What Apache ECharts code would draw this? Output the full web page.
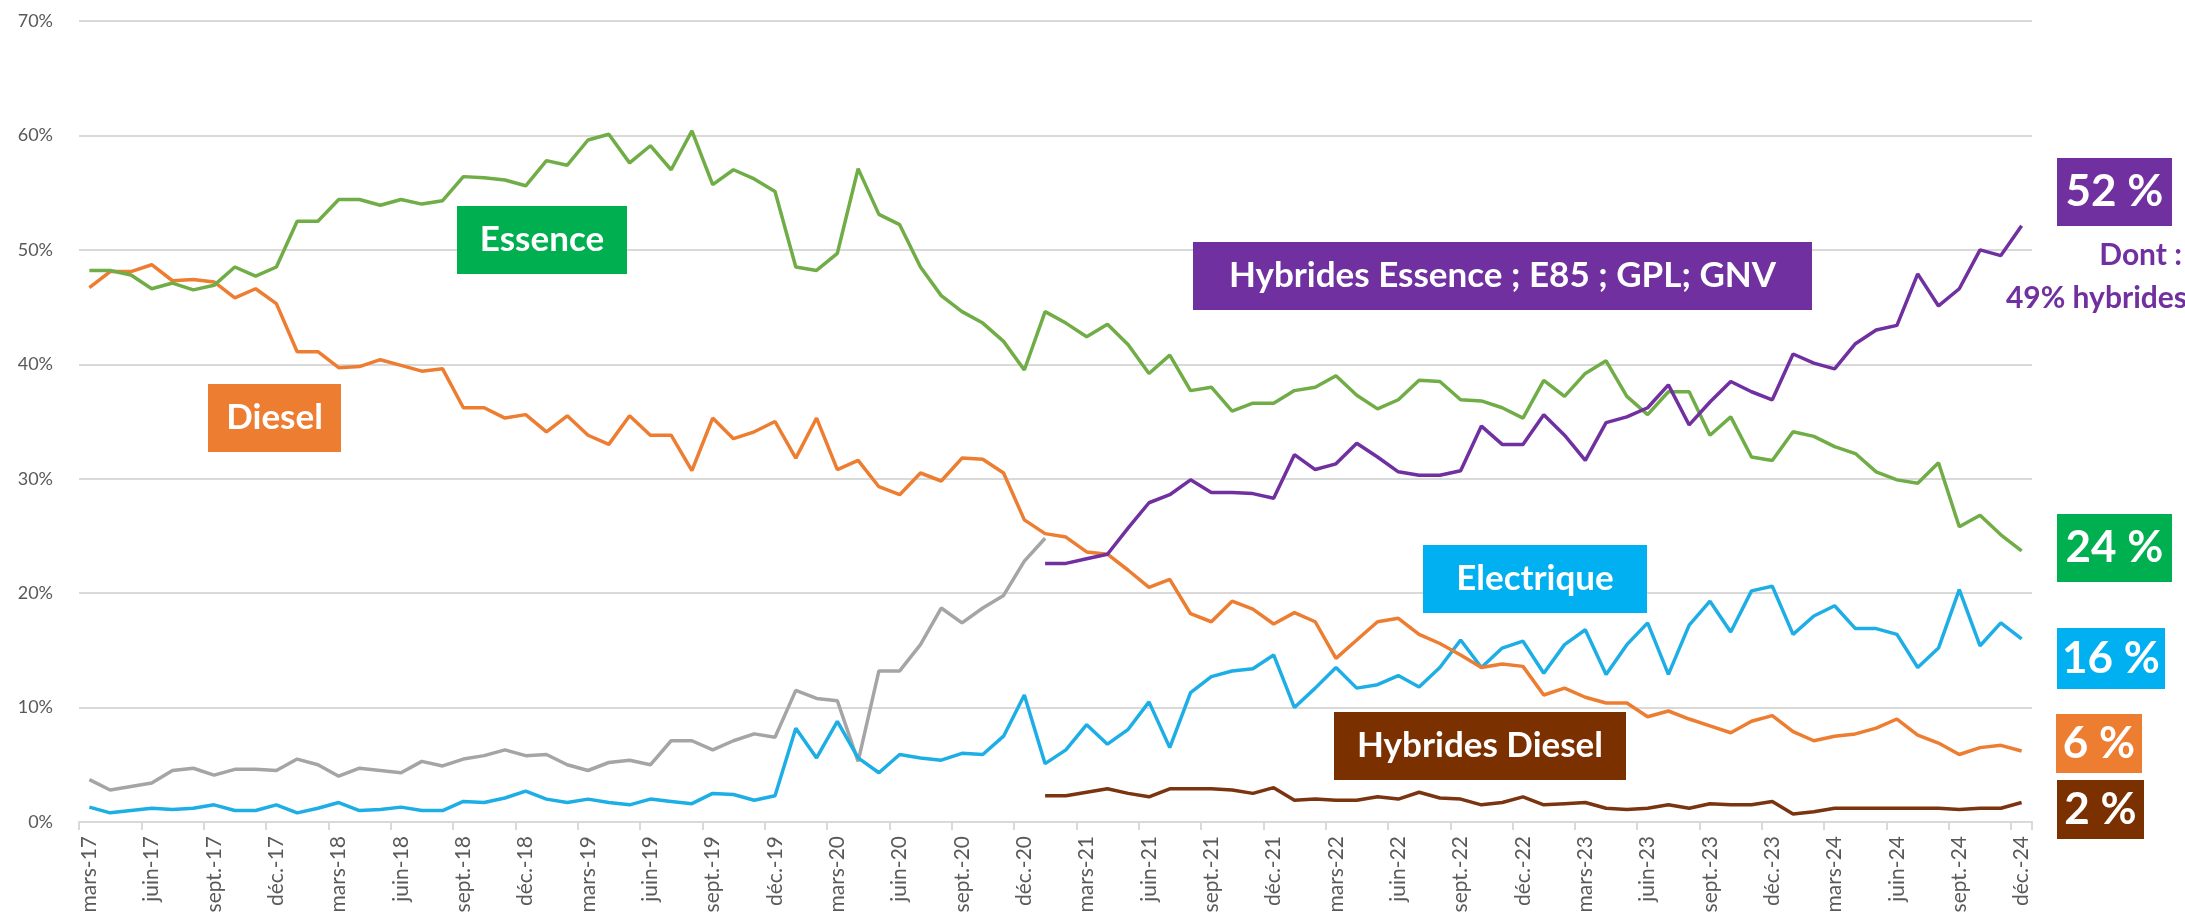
<!DOCTYPE html>
<html>
<head>
<meta charset="utf-8">
<script src="https://cdn.jsdelivr.net/npm/echarts@6/dist/echarts.min.js"></script>
<style>
  html, body { margin: 0; padding: 0; background: #fff; }
  #chart { width: 2185px; height: 920px; }
</style>
</head>
<body>
<div id="chart"></div>
<script>
// mois (libellés Excel) et années
const moisNoms = ["janv.", "févr.", "mars", "avr.", "mai", "juin", "juil.", "août", "sept.", "oct.", "nov.", "déc."];
const annees = ["17", "18", "19", "20", "21", "22", "23", "24"];

// catégories : mars-17 -> déc.-24
const categories = [];
annees.forEach((a, k) => {
  moisNoms.forEach((m, j) => {
    if (k === 0 && j < 2) return;
    categories.push(m + "-" + a);
  });
});

// parts de marché (%)
const essence = [
  48.2, 48.2, 47.8, 46.6, 47.1, 46.5, 46.9, 48.5, 47.7, 48.5,
  52.5, 52.5, 54.4, 54.4, 53.9, 54.4, 54.0, 54.3, 56.4, 56.3,
  56.1, 55.6, 57.8, 57.4, 59.6, 60.1, 57.6, 59.1, 57.0, 60.4,
  55.7, 57.0, 56.2, 55.1, 48.5, 48.2, 49.7, 57.1, 53.1, 52.2,
  48.5, 46.0, 44.6, 43.6, 42.0, 39.5, 44.6, 43.6, 42.4, 43.5,
  41.7, 39.2, 40.8, 37.7, 38.0, 35.9, 36.6, 36.6, 37.7, 38.0,
  39.0, 37.3, 36.1, 36.9, 38.6, 38.5, 36.9, 36.8, 36.2, 35.3,
  38.6, 37.2, 39.2, 40.3, 37.2, 35.6, 37.6, 37.6, 33.8, 35.4,
  31.9, 31.6, 34.1, 33.7, 32.8, 32.2, 30.6, 29.9, 29.6, 31.4,
  25.8, 26.8, 25.1, 23.7
];
const diesel = [
  46.7, 48.1, 48.1, 48.7, 47.3, 47.4, 47.2, 45.8, 46.6, 45.3,
  41.1, 41.1, 39.7, 39.8, 40.4, 39.9, 39.4, 39.6, 36.2, 36.2,
  35.3, 35.6, 34.1, 35.5, 33.8, 33.0, 35.5, 33.8, 33.8, 30.7,
  35.3, 33.5, 34.1, 35.0, 31.8, 35.3, 30.8, 31.6, 29.3, 28.6,
  30.5, 29.8, 31.8, 31.7, 30.5, 26.4, 25.2, 24.9, 23.6, 23.4,
  22.0, 20.5, 21.2, 18.2, 17.5, 19.3, 18.6, 17.3, 18.3, 17.5,
  14.3, 15.9, 17.5, 17.8, 16.4, 15.6, 14.6, 13.5, 13.8, 13.6,
  11.1, 11.7, 10.9, 10.4, 10.4, 9.2, 9.7, 9.0, 8.4, 7.8,
  8.8, 9.3, 7.9, 7.1, 7.5, 7.7, 8.2, 9.0, 7.6, 6.9,
  5.9, 6.5, 6.7, 6.2
];
// courbe grise (mars-17 -> janv.-21)
const hybridesAutres = [
  3.7, 2.8, 3.1, 3.4, 4.5, 4.7, 4.1, 4.6, 4.6, 4.5,
  5.5, 5.0, 4.0, 4.7, 4.5, 4.3, 5.3, 4.9, 5.5, 5.8,
  6.3, 5.8, 5.9, 5.0, 4.5, 5.2, 5.4, 5.0, 7.1, 7.1,
  6.3, 7.1, 7.7, 7.4, 11.5, 10.8, 10.6, 5.3, 13.2, 13.2,
  15.5, 18.7, 17.4, 18.7, 19.8, 22.8, 24.8
];
const electrique = [
  1.3, 0.8, 1.0, 1.2, 1.1, 1.2, 1.5, 1.0, 1.0, 1.5,
  0.8, 1.2, 1.7, 1.0, 1.1, 1.3, 1.0, 1.0, 1.8, 1.7,
  2.1, 2.7, 2.0, 1.7, 2.0, 1.7, 1.5, 2.0, 1.8, 1.6,
  2.5, 2.4, 1.9, 2.3, 8.2, 5.6, 8.8, 5.6, 4.3, 5.9,
  5.6, 5.4, 6.0, 5.9, 7.5, 11.1, 5.1, 6.3, 8.5, 6.8,
  8.1, 10.5, 6.5, 11.3, 12.7, 13.2, 13.4, 14.6, 10.0, 11.7,
  13.5, 11.7, 12.0, 12.8, 11.8, 13.5, 15.9, 13.5, 15.2, 15.8,
  13.0, 15.5, 16.8, 12.9, 15.5, 17.4, 12.9, 17.2, 19.3, 16.6,
  20.2, 20.6, 16.4, 18.0, 18.9, 16.9, 16.9, 16.4, 13.5, 15.2,
  20.3, 15.4, 17.4, 16.0
];
// à partir de janv.-21
const hybridesEssence = [
  22.6, 22.6, 23.0, 23.4, 25.7, 27.9, 28.6, 29.9, 28.8, 28.8,
  28.7, 28.3, 32.1, 30.8, 31.3, 33.1, 31.9, 30.6, 30.3, 30.3,
  30.7, 34.6, 33.0, 33.0, 35.6, 33.8, 31.6, 34.9, 35.4, 36.2,
  38.2, 34.7, 36.7, 38.5, 37.6, 36.9, 40.9, 40.1, 39.6, 41.8,
  43.0, 43.4, 47.9, 45.1, 46.6, 50.0, 49.5, 52.1
];
const hybridesDiesel = [
  2.3, 2.3, 2.6, 2.9, 2.5, 2.2, 2.9, 2.9, 2.9, 2.8,
  2.5, 3.0, 1.9, 2.0, 1.9, 1.9, 2.2, 2.0, 2.6, 2.1,
  2.0, 1.5, 1.7, 2.2, 1.5, 1.6, 1.7, 1.2, 1.1, 1.2,
  1.5, 1.2, 1.6, 1.5, 1.5, 1.8, 0.7, 0.9, 1.2, 1.2,
  1.2, 1.2, 1.2, 1.2, 1.1, 1.2, 1.2, 1.7
];

const debut2021 = categories.indexOf("janv.-21");
const pad = (arr, n) => Array(n).fill(null).concat(arr);

const FONT = "Lato, 'Open Sans', sans-serif";

// encadré coloré avec texte blanc (au-dessus de la grille)
const boite = (x, y, w, h, couleur, texte, taille) => ({
  type: "group",
  x: x,
  y: y,
  z: 100,
  children: [
    { type: "rect", z: 100, shape: { x: 0, y: 0, width: w, height: h }, style: { fill: couleur } },
    {
      type: "text",
      z: 101,
      x: w / 2,
      y: h / 2,
      style: {
        text: texte,
        fill: "#ffffff",
        font: "bold " + taille + "px " + FONT,
        align: "center",
        verticalAlign: "middle",
        textAlign: "center",
        textVerticalAlign: "middle",
      },
    },
  ],
});

const chart = echarts.init(document.getElementById("chart"));

const ligne = (nom, data, couleur) => ({
  name: nom,
  type: "line",
  data: data,
  symbol: "none",
  connectNulls: false,
  lineStyle: { color: couleur, width: 3.5 },
  itemStyle: { color: couleur },
});

const option = {
  animation: false,
  backgroundColor: "#ffffff",
  grid: { left: 79, right: 153, top: 21, bottom: 98 },
  xAxis: {
    type: "category",
    boundaryGap: true,
    data: categories,
    axisLine: { lineStyle: { color: "#d9d9d9", width: 2 } },
    axisTick: { show: true, interval: 2, length: 8, lineStyle: { color: "#d9d9d9", width: 2 } },
    axisLabel: {
      interval: 2,
      rotate: 90,
      color: "#595959",
      fontSize: 21,
      fontFamily: FONT,
      margin: 14,
    },
  },
  yAxis: {
    type: "value",
    min: 0,
    max: 70,
    interval: 10,
    axisLine: { show: false },
    axisTick: { show: false },
    splitLine: { lineStyle: { color: "#d9d9d9", width: 2 } },
    axisLabel: {
      formatter: "{value}%",
      color: "#595959",
      fontSize: 18,
      fontFamily: FONT,
      margin: 26,
    },
  },
  series: [
    ligne("Hybrides et autres", hybridesAutres, "#a5a5a5"),
    ligne("Electrique", electrique, "#1eaee6"),
    ligne("Hybrides Diesel", pad(hybridesDiesel, debut2021), "#7a3410"),
    ligne("Diesel", diesel, "#ed7d31"),
    ligne("Essence", essence, "#70ad47"),
    ligne("Hybrides Essence ; E85 ; GPL; GNV", pad(hybridesEssence, debut2021), "#7030a0"),
  ],
  graphic: [
    boite(457, 206, 170, 68, "#00b050", "Essence", 35),
    boite(208, 384, 133, 68, "#ed7d31", "Diesel", 35),
    boite(1193, 242, 619, 68, "#7030a0", "Hybrides Essence ; E85 ; GPL; GNV", 35),
    boite(1423, 545, 224, 68, "#00b0f0", "Electrique", 35),
    boite(1334, 712, 292, 68, "#7b3000", "Hybrides Diesel", 35),
    boite(2057, 158, 115, 68, "#7030a0", "52 %", 44),
    boite(2057, 514, 115, 68, "#00b050", "24 %", 44),
    boite(2057, 628, 108, 61, "#00b0f0", "16 %", 44),
    boite(2056, 714, 86, 59, "#ed7d31", "6 %", 44),
    boite(2057, 780, 87, 59, "#7b3000", "2 %", 44),
    {
      type: "text",
      z: 100,
      x: 2182,
      y: 255,
      style: {
        text: "Dont :",
        fill: "#7030a0",
        font: "bold 30px " + FONT,
        align: "right",
        verticalAlign: "middle",
        textAlign: "right",
        textVerticalAlign: "middle",
      },
    },
    {
      type: "text",
      z: 100,
      x: 2187,
      y: 298,
      style: {
        text: "49% hybrides",
        fill: "#7030a0",
        font: "bold 30px " + FONT,
        align: "right",
        verticalAlign: "middle",
        textAlign: "right",
        textVerticalAlign: "middle",
      },
    },
  ],
};

chart.setOption(option);
window.addEventListener("resize", function () {
  chart.resize();
});
</script>
</body>
</html>
